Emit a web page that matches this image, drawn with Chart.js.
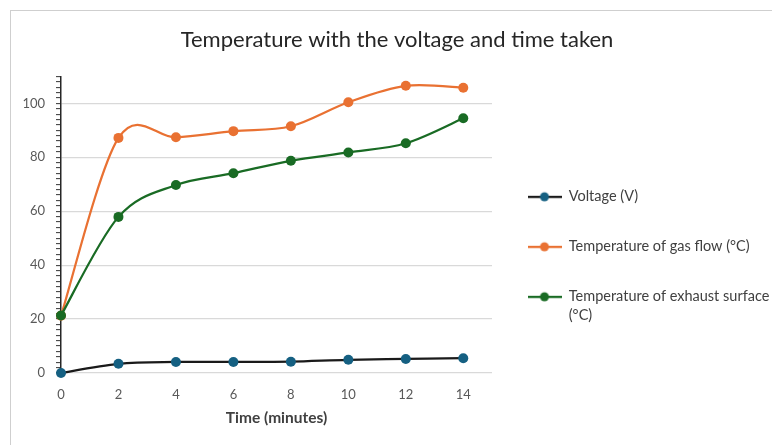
<!DOCTYPE html>
<html>
<head>
<meta charset="utf-8">
<script src="https://cdn.jsdelivr.net/npm/chart.js@4.4.1/dist/chart.umd.min.js"></script>
<style>
  html, body { margin: 0; padding: 0; background: #ffffff; }
  #wrap { position: relative; width: 772px; height: 445px; overflow: hidden; }
  #frame { position: absolute; left: 10px; top: 10px; width: 800px; height: 500px;
           border-top: 1px solid #cfcfcf; border-left: 1px solid #cfcfcf; }
  #c { position: absolute; left: 0; top: 0; }
</style>
</head>
<body>
<div id="wrap">
  <div id="frame"></div>
  <canvas id="c" width="772" height="445"></canvas>
</div>
<script>
// Measurements: time in minutes, voltage in V, temperatures in °C
const times = [0, 2, 4, 6, 8, 10, 12, 14];
const voltage = [0, 3.4, 4.1, 4.1, 4.2, 4.9, 5.2, 5.5];
const gasTemp = [21.2, 87.2, 87.4, 89.7, 91.5, 100.4, 106.5, 105.8];
const surfaceTemp = [21.3, 57.9, 69.7, 74.1, 78.7, 81.8, 85.2, 94.5];

const seriesNames = [
  'Voltage (V)',
  'Temperature of gas flow (°C)',
  ['Temperature of exhaust surface', '(°C)']
];
const lineColors = ['#1a1a1a', '#E97132', '#196B24'];
const markerColors = ['#156082', '#E97132', '#196B24'];

const xTickValues = [0, 2, 4, 6, 8, 10, 12, 14];
const yLabelValues = [0, 20, 40, 60, 80, 100];
const yMax = 110;
const yMinorStep = 2;

const FONT = 'Lato, "Open Sans", "Liberation Sans", sans-serif';

function toPoints(values) {
  return times.map((t, i) => ({ x: t, y: values[i] }));
}

// small line-with-marker swatch for the legend
function swatch(line, marker) {
  const c = document.createElement('canvas');
  c.width = 34; c.height = 12;
  const g = c.getContext('2d');
  g.strokeStyle = line; g.lineWidth = 2.25;
  g.beginPath(); g.moveTo(0, 6); g.lineTo(34, 6); g.stroke();
  g.fillStyle = marker;
  g.beginPath(); g.arc(17, 6, 4.5, 0, Math.PI * 2); g.fill();
  return c;
}

// Uniform Catmull-Rom smoothing (control arm = 1/6 of the neighbour chord),
// applied to the control points of each line element before it is drawn.
const catmullRom = {
  id: 'catmullRom',
  beforeDatasetDraw(chart, args) {
    const line = args.meta.dataset;
    if (!line || !line.points) return;
    line.updateControlPoints(chart.chartArea, args.meta.indexAxis);
    const pts = line.points;
    const n = pts.length;
    for (let i = 0; i < n; i++) {
      const p = pts[i];
      const prev = pts[Math.max(i - 1, 0)];
      const next = pts[Math.min(i + 1, n - 1)];
      const dx = (next.x - prev.x) / 6;
      const dy = (next.y - prev.y) / 6;
      p.cp1x = p.x - dx; p.cp1y = p.y - dy;
      p.cp2x = p.x + dx; p.cp2y = p.y + dy;
    }
    line._path = undefined;
  }
};

const seriesValues = [voltage, gasTemp, surfaceTemp];
const drawOrder = [2, 1, 0];

const datasets = seriesValues.map((vals, i) => ({
  label: Array.isArray(seriesNames[i]) ? seriesNames[i].join(' ') : seriesNames[i],
  data: toPoints(vals),
  borderColor: lineColors[i],
  borderWidth: 2.25,
  pointBackgroundColor: markerColors[i],
  pointBorderColor: markerColors[i],
  pointRadius: 5,
  pointBorderWidth: 0,
  tension: 0.4,
  clip: false,
  order: drawOrder[i]
}));

new Chart(document.getElementById('c'), {
  type: 'line',
  data: { datasets },
  plugins: [catmullRom],
  options: {
    responsive: false,
    animation: false,
    devicePixelRatio: 1,
    layout: { padding: { left: 22, right: 0, top: 0, bottom: 0 } },
    plugins: {
      tooltip: { enabled: false },
      title: {
        display: true,
        text: 'Temperature with the voltage and time taken',
        color: '#262626',
        font: { family: FONT, size: 22, weight: 'normal' },
        padding: { top: 27, bottom: 23 }
      },
      legend: {
        position: 'right',
        align: 'center',
        maxWidth: 280,
        // empty title block only reserves space above the entries
        title: { display: true, text: '', font: { size: 10, lineHeight: 1.2 }, padding: 30 },
        labels: {
          usePointStyle: true,
          pointStyleWidth: 34,
          padding: 35.5,
          color: '#404040',
          font: { family: FONT, size: 14.5, lineHeight: 1.31 },
          generateLabels: () => seriesNames.map((name, i) => ({
            text: name,
            fillStyle: markerColors[i],
            strokeStyle: lineColors[i],
            lineWidth: 0,
            pointStyle: swatch(lineColors[i], markerColors[i]),
            fontColor: '#404040',
            hidden: false,
            datasetIndex: i
          }))
        }
      }
    },
    scales: {
      x: {
        type: 'linear',
        min: 0,
        max: 15,
        afterBuildTicks: s => { s.ticks = xTickValues.map(v => ({ value: v })); },
        afterFit: s => { s.height = 72; },
        ticks: {
          autoSkip: false,
          color: '#595959',
          font: { family: FONT, size: 13 },
          padding: 14,
          maxRotation: 0
        },
        grid: { display: false, drawTicks: false },
        border: { display: false },
        title: {
          display: true,
          text: 'Time (minutes)',
          color: '#404040',
          font: { family: FONT, size: 15.5, weight: 'bold' },
          padding: { top: 0, bottom: 18 }
        }
      },
      y: {
        type: 'linear',
        min: 0,
        max: yMax,
        afterBuildTicks: s => {
          const t = [];
          for (let v = 0; v <= yMax; v += yMinorStep) t.push({ value: v });
          s.ticks = t;
        },
        afterFit: s => { s.width = 39; },
        ticks: {
          autoSkip: false,
          color: '#595959',
          font: { family: FONT, size: 13 },
          padding: 11,
          callback: v => (yLabelValues.includes(v) ? String(v) : '')
        },
        grid: {
          color: ctx => (ctx.tick && yLabelValues.includes(ctx.tick.value) ? '#d9d9d9' : 'rgba(0,0,0,0)'),
          lineWidth: 1.25,
          tickColor: '#333333',
          tickWidth: 1,
          tickLength: 5
        },
        border: { color: '#262626', width: 1.5 }
      }
    }
  }
});
</script>
</body>
</html>
